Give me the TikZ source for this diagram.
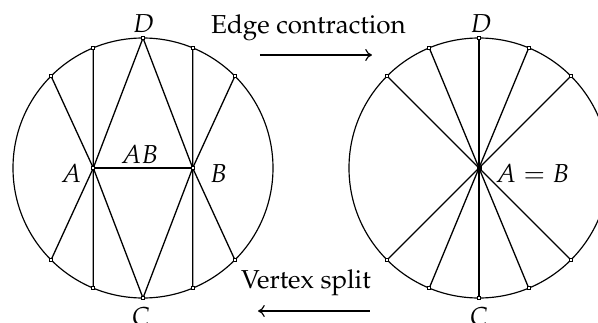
\documentclass[tikz,border=0pt]{standalone}
\usepackage[T1]{fontenc}
\usepackage{mathpazo}
\usetikzlibrary{arrows.meta,calc}
\tikzset{
  edge/.style={line width=0.5pt},
  rim/.style={line width=0.45pt},
  vtx/.style={draw, fill=white, line width=0.3pt, minimum size=1.2pt, inner sep=0pt, rectangle},
  cvtx/.style={draw, fill=black, line width=0.3pt, minimum size=1.6pt, inner sep=0pt, rectangle},
  lbl/.style={anchor=base, inner sep=0pt},
  op/.style={line width=0.45pt, -{Computer Modern Rightarrow[length=2.6pt,width=4.6pt]}},
}
\begin{document}
\begin{tikzpicture}[x=0.385pt, y=-0.385pt]
\useasboundingbox (0,0) rectangle (598,323);
\clip (0,0) rectangle (598,323);
% ---------- left circle ----------
\coordinate (L) at (143,168);
\draw[rim] (L) circle [radius=130];
\foreach \a/\n in {45/a,67.5/b,90/c,112.5/d,135/e,225/f,247.5/g,270/h,292.5/i,315/j}{
  \coordinate (L\n) at ($(L)+(\a:130 and -130)$);
}
\coordinate (A) at (93.3,168);
\coordinate (B) at (192.7,168);
\draw[edge] (Ld) -- (A) -- (Lg);
\draw[edge] (Lb) -- (B) -- (Li);
\draw[edge] (Le) -- (A) -- (Lf);
\draw[edge] (Lc) -- (A) -- (Lh);
\draw[edge] (Lc) -- (B) -- (Lh);
\draw[edge] (La) -- (B) -- (Lj);
\draw[edge] (A) -- (B);
\foreach \n in {a,b,c,d,e,f,g,h,i,j}{
  \node[vtx] (nL\n) at (L\n) {};
}
\node[vtx] (nA) at (A) {};
\node[vtx] (nB) at (B) {};
\node[lbl] (tD1) at (143.5,32) {$D$};
\node[lbl] (tC1) at (141,325) {$C$};
\node[lbl] (tA) at (71,182) {$A$};
\node[lbl] (tB) at (218.5,182) {$B$};
\node[lbl] (tAB) at (139.5,163) {$AB$};
% ---------- right circle ----------
\coordinate (R) at (479,168);
\draw[rim] (R) circle [radius=130];
\foreach \a/\n in {45/a,67.5/b,90/c,112.5/d,135/e,225/f,247.5/g,270/h,292.5/i,315/j}{
  \coordinate (R\n) at ($(R)+(\a:130 and -130)$);
  \draw[edge] (R\n) -- (R);
}
\foreach \n in {a,b,c,d,e,f,g,h,i,j}{
  \node[vtx] (nR\n) at (R\n) {};
}
\node[cvtx] (nRc) at (R) {};
\node[lbl] (tD2) at (481,32) {$D$};
\node[lbl] (tC2) at (479,325) {$C$};
\node[lbl] (tAB2) at (532.5,182) {$A=B$};
% ---------- operations ----------
\node[lbl] (ec) at (308.5,33) {Edge contraction};
\coordinate (e1) at (260,55);
\coordinate (e2) at (372,55);
\draw[op] (e1) -- (e2);
\node[lbl] (vs) at (306,288) {Vertex split};
\coordinate (v1) at (370,311);
\coordinate (v2) at (258,311);
\draw[op] (v1) -- (v2);
\end{tikzpicture}
\end{document}
